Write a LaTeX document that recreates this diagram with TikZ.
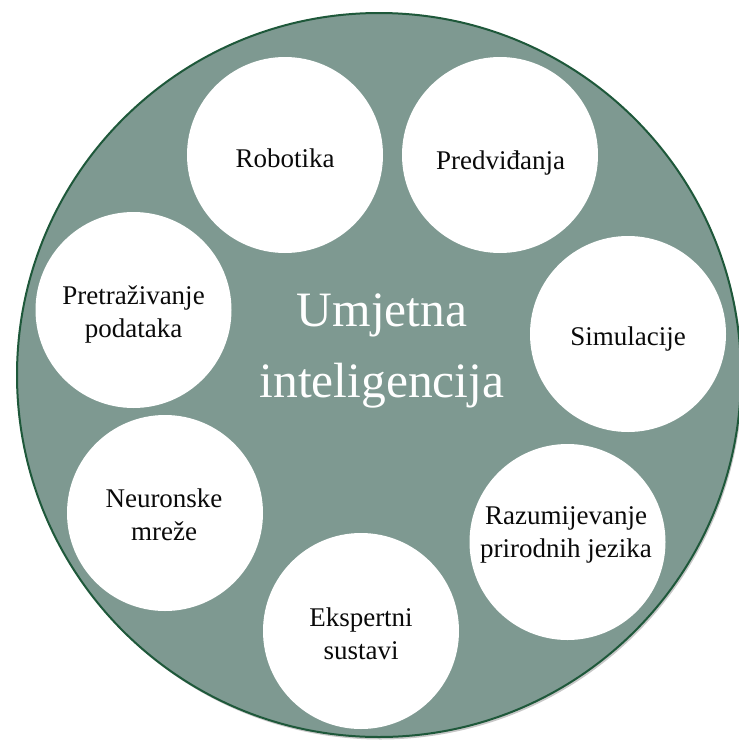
\documentclass[tikz,border=0pt]{standalone}
\usepackage{fontspec}
\setmainfont{Liberation Serif}
\usetikzlibrary{shadows}
\definecolor{ringfill}{RGB}{126,153,145}
\definecolor{ringline}{RGB}{30,88,58}
\definecolor{txt}{RGB}{10,10,10}
\begin{document}
\begin{tikzpicture}[x=1pt,y=-1pt,
  bub/.style={circle, fill=white, draw=none, minimum size=196pt, inner sep=0pt},
  lbl/.style={font=\rmfamily\fontsize{27}{33}\selectfont, text=txt, align=center, inner sep=0pt},
  titletext/.style={font=\rmfamily\fontsize{49.5}{71}\selectfont, text=white, align=center, inner sep=0pt}]
\useasboundingbox (0,0) rectangle (739,742);
\node[circle, minimum size=724pt, inner sep=0pt, fill=ringfill, draw=ringline, line width=2pt,
  drop shadow={shadow xshift=1.5pt, shadow yshift=-2.5pt, fill=black, opacity=0.22}] (ring) at (379,375) {};
% bubbles
\node[bub] (rob) at (285,155) {};
\node[bub] (pred) at (500,155) {};
\node[bub] (sim) at (628,334) {};
\node[bub] (raz) at (567.5,542) {};
\node[bub] (eks) at (361,631) {};
\node[bub] (neu) at (165,513) {};
\node[bub] (pre) at (133.5,310) {};
% labels
\node[lbl, anchor=base] (robt) at (285,167) {Robotika};
\node[lbl, anchor=base] (predt) at (500.5,169.3) {Predviđanja};
\node[lbl, anchor=base] (simt) at (628,345) {Simulacije};
\node[lbl] (razt) at (566,535.3) {Razumijevanje\\prirodnih jezika};
\node[lbl] (ekst) at (361,634) {Ekspertni\\sustavi};
\node[lbl] (neut) at (164,514.6) {Neuronske\\mreže};
\node[lbl] (pret) at (133.5,314.3) {Pretraživanje\\podataka};
\node[titletext] (ai) at (382,351) {Umjetna\\inteligencija};
\end{tikzpicture}
\end{document}
